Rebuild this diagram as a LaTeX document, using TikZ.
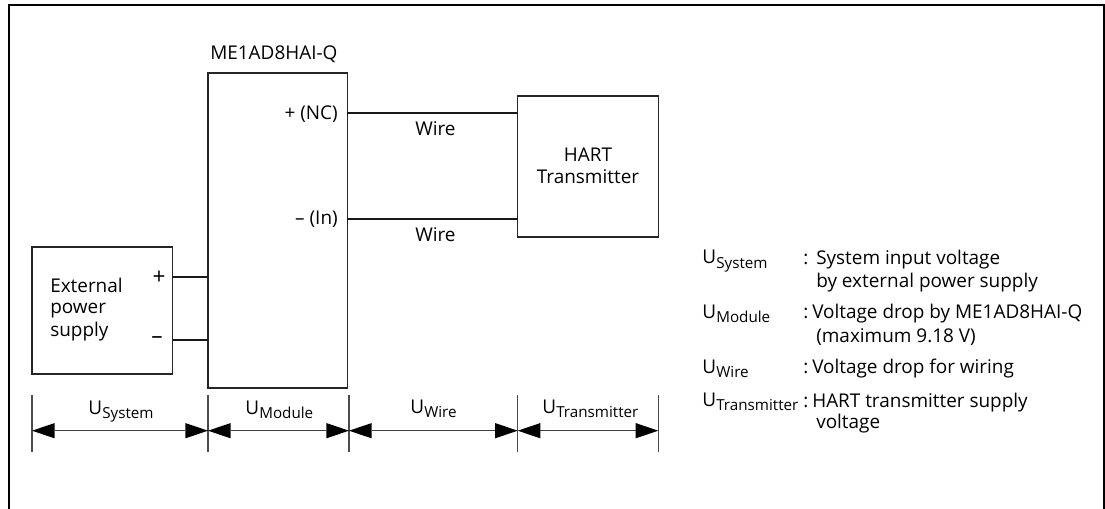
\documentclass[tikz,border=0pt]{standalone}
\usepackage{fontspec}
\setmainfont{Open Sans}
\usetikzlibrary{arrows.meta}
\tikzset{
 x=0.75pt,y=-0.75pt,
 boxn/.style={draw=black!85,line width=1.1pt,inner sep=0pt,outer sep=0pt,anchor=north west},
 wiren/.style={draw=black!90,line width=1.25pt},
 dim/.style={draw=black!75,line width=1.1pt,{Triangle[length=17pt,width=11.5pt,fill=black,line width=0pt]}-{Triangle[length=17pt,width=11.5pt,fill=black,line width=0pt]}},
 tick/.style={draw=black!70,line width=0.9pt},
 lab/.style={font=\fontsize{14.2}{18}\selectfont,inner sep=0pt,align=left},
 sign/.style={font=\fontsize{17}{18}\selectfont,inner sep=0pt},
 frame/.style={draw=black,line width=1.5pt}
}
\newcommand{\Usub}[1]{U\kern0.2pt\raisebox{-0.42ex}{\fontsize{11.4}{14}\selectfont #1}}
\begin{document}
\begin{tikzpicture}
\useasboundingbox (0,0) rectangle (1105,509);
\coordinate (fa) at (9,509);
\coordinate (fb) at (9,5);
\coordinate (fc) at (1103.5,5);
\coordinate (fd) at (1103.5,509);
\draw[frame] (fa) -- (fb) -- (fc) -- (fd);
\node[boxn,minimum width=105.5pt,minimum height=95.25pt] (ext) at (32,247) {};
\node[boxn,minimum width=104.5pt,minimum height=236.25pt] (mod) at (208,73) {};
\node[boxn,minimum width=105.75pt,minimum height=105.75pt] (hart) at (517.7,96) {};
\coordinate (e1) at (172.7,277.3);
\coordinate (e2) at (172.7,340.3);
\coordinate (m1) at (347.3,113.3);
\coordinate (m2) at (347.3,219.3);
\draw[wiren] (e1) -- (e1 -| mod.west);
\draw[wiren] (e2) -- (e2 -| mod.west);
\draw[wiren] (m1) -- (m1 -| hart.west);
\draw[wiren] (m2) -- (m2 -| hart.west);
\foreach \n/\x in {a/32,b/208,c/349,d/517.7,e/658.3}{
 \coordinate (\n0) at (\x,395);
 \coordinate (\n1) at (\x,452);
 \coordinate (\n) at (\x,430.7);
 \draw[tick] (\n0) -- (\n1);
}
\draw[dim] (a) -- (b);
\draw[dim] (b) -- (c);
\draw[dim] (c) -- (d);
\draw[dim] (d) -- (e);
\node[lab,anchor=base west] (t1) at (210,60) {ME1AD8HAI-Q};
\node[lab,anchor=base east] (t2) at (338,119.5) {+ (NC)};
\node[lab,anchor=base east] (t3) at (338,225) {– (In)};
\node[lab,anchor=base west] (t4) at (415,136) {Wire};
\node[lab,anchor=base west] (t5) at (415,242) {Wire};
\node[lab,anchor=base] (t6) at (588,162) {HART};
\node[lab,anchor=base] (t6b) at (588,184) {Transmitter};
\node[lab,anchor=base west] (t7) at (50,293) {External};
\node[lab,anchor=base west] (t8) at (50,314) {power};
\node[lab,anchor=base west] (t9) at (50,336) {supply};
\node[sign,anchor=center] (t10) at (159,277.3) {+};
\node[sign,anchor=center] (t11) at (157,340) {–};
\node[lab,anchor=base west] (d1) at (88,414) {\Usub{System}};
\node[lab,anchor=base west] (d2) at (245,414) {\Usub{Module}};
\node[lab,anchor=base west] (d3) at (410,413) {\Usub{Wire}};
\node[lab,anchor=base west] (d4) at (542,413) {\Usub{Transmitter}};
\node[lab,anchor=base west] (l1) at (702,264) {\Usub{System}};
\node[lab,anchor=base west] (l2) at (702,318) {\Usub{Module}};
\node[lab,anchor=base west] (l3) at (702,373) {\Usub{Wire}};
\node[lab,anchor=base west] (l4) at (702,406) {\Usub{Transmitter}};
\node[lab,anchor=base west] (r1) at (803,265) {:};
\node[lab,anchor=base west] (r1a) at (816,265) {System input voltage};
\node[lab,anchor=base west] (r1b) at (816,287) {by external power supply};
\node[lab,anchor=base west] (r2) at (803,319) {:};
\node[lab,anchor=base west] (r2a) at (812,319) {Voltage drop by ME1AD8HAI-Q};
\node[lab,anchor=base west] (r2b) at (816,342) {(maximum 9.18 V)};
\node[lab,anchor=base west] (r3) at (803,373) {:};
\node[lab,anchor=base west] (r3a) at (812,373) {Voltage drop for wiring};
\node[lab,anchor=base west] (r4) at (803,407) {:};
\node[lab,anchor=base west] (r4a) at (812,407) {HART transmitter supply};
\node[lab,anchor=base west] (r4b) at (816,428) {voltage};
\end{tikzpicture}
\end{document}
